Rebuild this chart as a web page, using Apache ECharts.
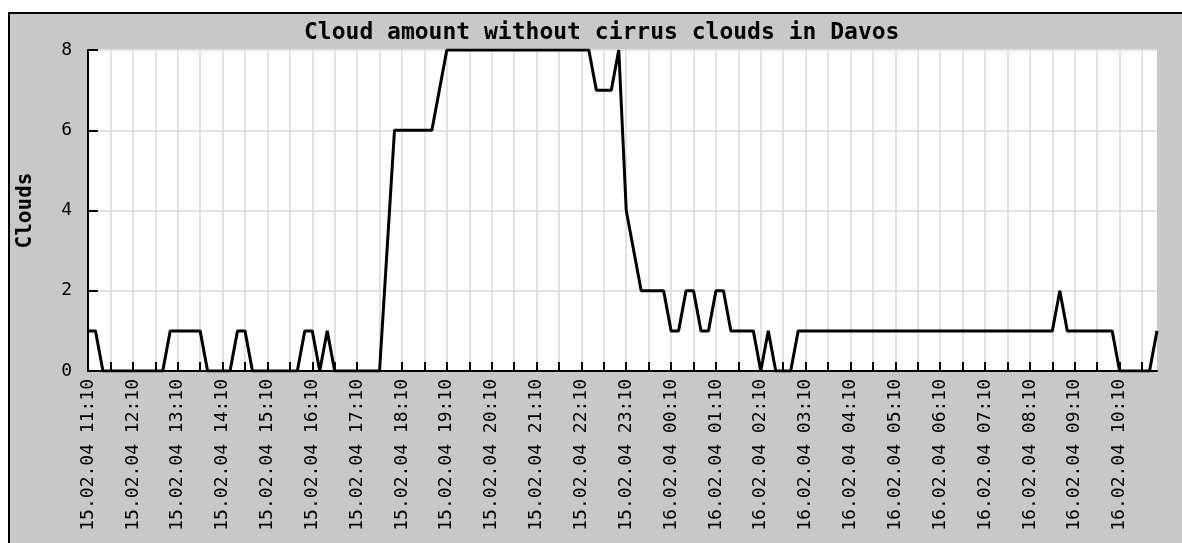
<!DOCTYPE html>
<html><head><meta charset="utf-8">
<script src="https://cdn.jsdelivr.net/npm/echarts@6/dist/echarts.min.js"></script>
<style>
html,body{margin:0;padding:0;background:#fff;width:1182px;height:543px;overflow:hidden;}
#frame{position:absolute;left:8px;top:12px;width:1174px;height:531px;background:#c8c8c8;border-left:2px solid #000;border-top:2px solid #000;box-sizing:border-box;}
#chart{position:absolute;left:0;top:0;width:1182px;height:543px;}
</style></head><body>
<div id="frame"></div><div id="chart"></div>
<script>
const chartTitle = 'Cloud amount without cirrus clouds in Davos';
const yAxisName = 'Clouds';
// time axis: 10-minute observations starting 15.02.04 11:10
const startDay = 15, startMonth = '02', startYear = '04';
const startHour = 11, startMinute = 10, stepMinutes = 10;
const yTicks = [0, 2, 4, 6, 8];
const cloudValues = [
  1,1,0,0,0,0,0,0,0,0,0,1,1,1,1,1,0,0,0,0,
  1,1,0,0,0,0,0,0,0,1,1,0,1,0,0,0,0,0,0,0,
  3,6,6,6,6,6,6,7,8,8,8,8,8,8,8,8,8,8,8,8,
  8,8,8,8,8,8,8,8,7,7,7,8,4,3,2,2,2,2,1,1,
  2,2,1,1,2,2,1,1,1,1,0,1,0,0,0,1,1,1,1,1,
  1,1,1,1,1,1,1,1,1,1,1,1,1,1,1,1,1,1,1,1,
  1,1,1,1,1,1,1,1,1,1,2,1,1,1,1,1,1,1,0,0,
  0,0,0,1
];
const pad = n => String(n).padStart(2, '0');
const categories = cloudValues.map((_, i) => {
  const total = startHour * 60 + startMinute + i * stepMinutes;
  const day = startDay + Math.floor(total / 1440);
  const m = total % 1440;
  return pad(day) + '.' + startMonth + '.' + startYear + ' ' + pad(Math.floor(m / 60)) + ':' + pad(m % 60);
});
const mono = 'DejaVu Sans Mono';
const chart = echarts.init(document.getElementById('chart'), null, {renderer: 'canvas'});
chart.setOption({
  backgroundColor: 'transparent',
  animation: false,
  title: {
    text: chartTitle, left: 304, top: 22, padding: 0,
    textStyle: {fontFamily: mono, fontWeight: 'bold', fontSize: 23, color: '#000'}
  },
  grid: {left: 88, right: 25, top: 50, bottom: 172, show: true, backgroundColor: '#fff', borderWidth: 0},
  xAxis: {
    type: 'category', data: categories, boundaryGap: false,
    axisLine: {show: true, lineStyle: {color: '#000', width: 2}},
    axisTick: {show: true, inside: true, length: 9, interval: i => i % 3 === 0, lineStyle: {color: '#000', width: 2}},
    axisLabel: {interval: i => i % 6 === 0, rotate: 90, margin: 8, fontFamily: mono, fontSize: 18, color: '#000', hideOverlap: false},
    splitLine: {show: true, interval: i => i % 3 === 0, lineStyle: {color: '#e2e2e2', width: 2}}
  },
  yAxis: {
    type: 'value', min: yTicks[0], max: yTicks[yTicks.length - 1], interval: 2,
    name: yAxisName, nameLocation: 'middle', nameRotate: 90, nameGap: 52,
    nameTextStyle: {fontFamily: mono, fontWeight: 'bold', fontSize: 21, color: '#000'},
    axisLine: {show: true, lineStyle: {color: '#000', width: 2}},
    axisTick: {show: true, inside: true, length: 10, lineStyle: {color: '#000', width: 2}},
    axisLabel: {margin: 16, fontFamily: mono, fontSize: 18, color: '#000'},
    splitLine: {show: true, lineStyle: {color: '#e2e2e2', width: 2}}
  },
  series: [{
    type: 'line', data: cloudValues, symbol: 'none', smooth: false,
    lineStyle: {color: '#000', width: 3}
  }]
});
</script>
</body></html>
